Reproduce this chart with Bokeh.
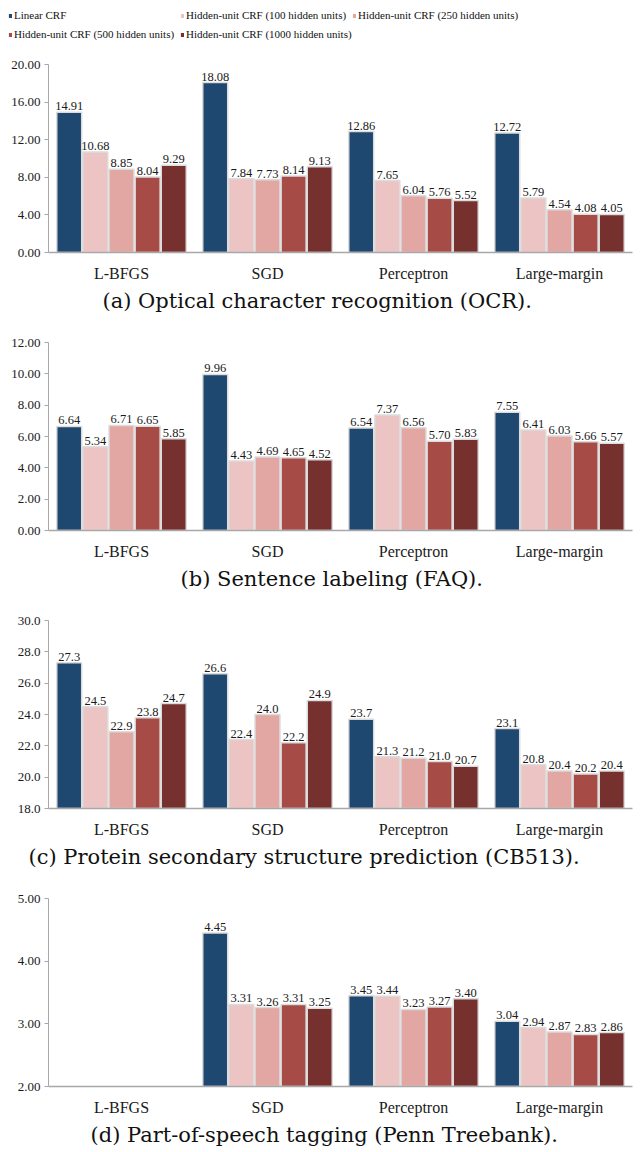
from bokeh.plotting import figure
from bokeh.models import (FactorRange, Range1d, FixedTicker, NumeralTickFormatter,
                          Title, Legend, LegendItem, ColumnDataSource)
from bokeh.transform import dodge
from bokeh.layouts import column
from bokeh.core.properties import value
from bokeh.embed import file_html
from bokeh.resources import INLINE

categories = ["L-BFGS", "SGD", "Perceptron", "Large-margin"]
series_names = ["Linear CRF",
                "Hidden-unit CRF (100 hidden units)",
                "Hidden-unit CRF (250 hidden units)",
                "Hidden-unit CRF (500 hidden units)",
                "Hidden-unit CRF (1000 hidden units)"]
colors = ["#1f4871", "#ecc4c3", "#e2a6a3", "#a64b45", "#76302e"]

# (a) OCR
ocr_linear = [14.91, 18.08, 12.86, 12.72]
ocr_h100 = [10.68, 7.84, 7.65, 5.79]
ocr_h250 = [8.85, 7.73, 6.04, 4.54]
ocr_h500 = [8.04, 8.14, 5.76, 4.08]
ocr_h1000 = [9.29, 9.13, 5.52, 4.05]
ocr_ticks = [0, 4, 8, 12, 16, 20]

# (b) FAQ
faq_linear = [6.64, 9.96, 6.54, 7.55]
faq_h100 = [5.34, 4.43, 7.37, 6.41]
faq_h250 = [6.71, 4.69, 6.56, 6.03]
faq_h500 = [6.65, 4.65, 5.70, 5.66]
faq_h1000 = [5.85, 4.52, 5.83, 5.57]
faq_ticks = [0, 2, 4, 6, 8, 10, 12]

# (c) CB513
cb_linear = [27.3, 26.6, 23.7, 23.1]
cb_h100 = [24.5, 22.4, 21.3, 20.8]
cb_h250 = [22.9, 24.0, 21.2, 20.4]
cb_h500 = [23.8, 22.2, 21.0, 20.2]
cb_h1000 = [24.7, 24.9, 20.7, 20.4]
cb_ticks = [18, 20, 22, 24, 26, 28, 30]

# (d) Penn Treebank (no L-BFGS results)
pos_linear = [None, 4.45, 3.45, 3.04]
pos_h100 = [None, 3.31, 3.44, 2.94]
pos_h250 = [None, 3.26, 3.23, 2.87]
pos_h500 = [None, 3.31, 3.27, 2.83]
pos_h1000 = [None, 3.25, 3.40, 2.86]
pos_ticks = [2, 3, 4, 5]

captions = ["(a) Optical character recognition (OCR).",
            "(b) Sentence labeling (FAQ).",
            "(c) Protein secondary structure prediction (CB513).",
            "(d) Part-of-speech tagging (Penn Treebank)."]

panels = [
    ([ocr_linear, ocr_h100, ocr_h250, ocr_h500, ocr_h1000], ocr_ticks, "0.00", "{:.2f}"),
    ([faq_linear, faq_h100, faq_h250, faq_h500, faq_h1000], faq_ticks, "0.00", "{:.2f}"),
    ([cb_linear, cb_h100, cb_h250, cb_h500, cb_h1000], cb_ticks, "0.0", "{:.1f}"),
    ([pos_linear, pos_h100, pos_h250, pos_h500, pos_h1000], pos_ticks, "0.00", "{:.2f}"),
]
# horizontal offset of each caption's left edge from the plot frame (layout only)
caption_offsets = [54, 132, -20, 42]

SERIF = "Liberation Serif"
CAP_FONT = "DejaVu Serif"
W = 644
offsets = [-0.358, -0.179, 0.0, 0.179, 0.358]
bar_w = 0.171

# legend strip: its own root so its frame spans the full width
LEG_H = 49
leg = figure(width=W, height=LEG_H, toolbar_location=None, output_backend="svg",
             x_range=Range1d(0, 1), y_range=Range1d(0, 1),
             x_axis_type=None, y_axis_type=None,
             min_border_left=0, min_border_right=0, min_border_top=0, min_border_bottom=0)
leg.grid.visible = False
leg.outline_line_color = None
items = []
for name, c in zip(series_names, colors):
    src = ColumnDataSource(dict(x=[0.5], top=[0.0]))
    r = leg.vbar(x="x", top="top", bottom=0.0, width=0.0, source=src,
                 fill_color=c, line_color=None)
    items.append(LegendItem(label=name, renderers=[r]))

legend_cols = [[items[0], items[3]], [items[1], items[4]], [items[2]]]
col_x = [8, 180, 352]
for its, x in zip(legend_cols, col_x):
    n = len(its)
    hgt = n * 12 + (n - 1) * 7
    lg = Legend(items=its, location=(x, LEG_H - 9 - hgt), orientation="vertical",
                padding=0, margin=0, spacing=7, label_height=12, glyph_width=4,
                glyph_height=5, label_standoff=2, label_text_font=SERIF,
                label_text_font_size="11px", label_text_color="#111111",
                border_line_color=None, background_fill_alpha=0)
    leg.add_layout(lg, "center")

figs = []
for k, (data, ticks, fmt, lfmt) in enumerate(panels):
    last = k == len(panels) - 1
    h = 269 if last else 278
    p = figure(width=W, height=h, toolbar_location=None, output_backend="svg",
               x_range=FactorRange(*categories), y_range=Range1d(ticks[0], ticks[-1]),
               min_border_left=48, min_border_right=12, min_border_top=15,
               min_border_bottom=h - 15 - 188)
    p.grid.visible = False
    p.outline_line_color = None
    base = ticks[0]
    for j, vals in enumerate(data):
        cats = [c for c, v in zip(categories, vals) if v is not None]
        vs = [v for v in vals if v is not None]
        src = ColumnDataSource(dict(cat=cats, val=vs, lab=[lfmt.format(v) for v in vs]))
        xd = dodge("cat", offsets[j], range=p.x_range)
        p.vbar(x=xd, top="val", bottom=base, width=bar_w, source=src,
               fill_color=colors[j], line_color="#dcdcdc", line_width=1.5)
        p.text(x=xd, y="val", text="lab", source=src, text_align="center",
               text_baseline="alphabetic", y_offset=-6, text_font=value(SERIF),
               text_font_size="12.5px", text_color="#1a1a1a")
    ya = p.yaxis[0]
    ya.ticker = FixedTicker(ticks=ticks)
    ya.formatter = NumeralTickFormatter(format=fmt)
    ya.axis_line_color = "#a8a8a8"
    ya.major_tick_line_color = "#a8a8a8"
    ya.major_tick_in = 0
    ya.major_tick_out = 4
    ya.minor_tick_line_color = None
    ya.major_label_standoff = 4
    ya.major_label_text_font = SERIF
    ya.major_label_text_font_size = "13px"
    ya.major_label_text_color = "#1a1a1a"
    xa = p.xaxis[0]
    xa.axis_line_color = "#a8a8a8"
    xa.axis_line_width = 1.5
    xa.major_tick_line_color = None
    xa.minor_tick_line_color = None
    xa.major_label_standoff = 6
    xa.major_label_text_font = SERIF
    xa.major_label_text_font_size = "16px"
    xa.major_label_text_color = "#1a1a1a"
    t = Title(text=captions[k], align="left", offset=caption_offsets[k],
              text_font=CAP_FONT, text_font_size="21px",
              text_font_style="normal", text_color="#111111", standoff=5)
    p.add_layout(t, "below")
    figs.append(p)

charts = column(*figs, spacing=0)
open("out.html", "w").write(file_html([leg, charts], INLINE))
